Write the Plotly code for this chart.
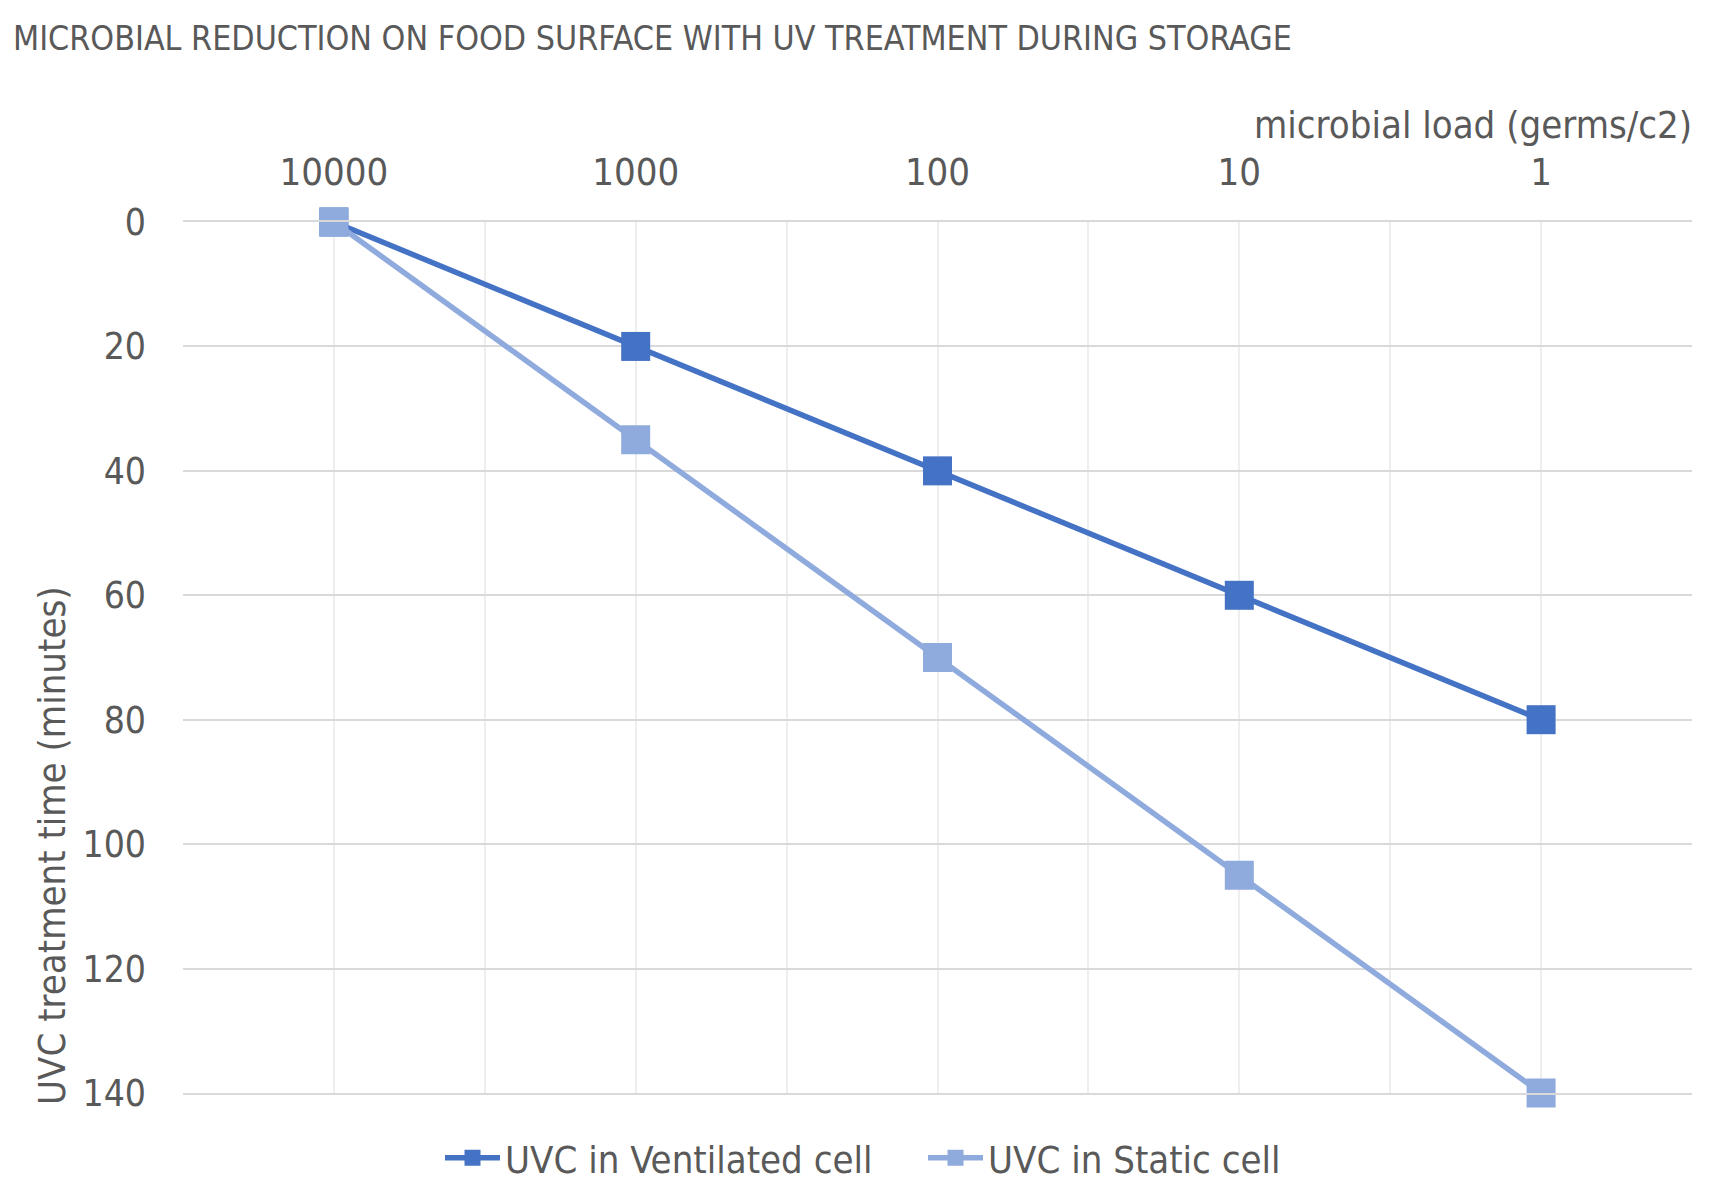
import plotly.graph_objects as go

categories = ["10000", "1000", "100", "10", "1"]
ventilated = [0, 20, 40, 60, 80]
static = [0, 35, 70, 105, 140]
y_ticks = [0, 20, 40, 60, 80, 100, 120, 140]

FONT = "DejaVu Sans Condensed, Liberation Sans Narrow, DejaVu Sans, sans-serif"
TXT = "#595959"

# page geometry of the plot area (page pixels)
PX0, PX1, PY0, PY1 = 183, 1692, 222, 1093
PW, PH = PX1 - PX0, PY1 - PY0


def px(x):
    return (x - PX0) / PW


def py(y):
    return (PY1 - y) / PH


xpos = list(range(len(categories)))
tickvals = []
ticktext = []
for i, c in enumerate(categories):
    tickvals += [i - 0.5, i]
    ticktext += ["", c]
tickvals.append(len(categories) - 0.5)
ticktext.append("")

fig = go.Figure()
fig.add_trace(go.Scatter(
    x=xpos, y=ventilated, mode="lines+markers", name="UVC in Ventilated cell",
    line=dict(color="#4472C4", width=5.5),
    marker=dict(symbol="square", size=29, color="#4472C4"),
    cliponaxis=False, legend="legend",
))
fig.add_trace(go.Scatter(
    x=xpos, y=static, mode="lines+markers", name="UVC in Static cell",
    line=dict(color="#8FAADC", width=5.5),
    marker=dict(symbol="square", size=29, color="#8FAADC"),
    cliponaxis=False, legend="legend2",
))

leg_common = dict(orientation="h", yanchor="middle", xanchor="left",
                  font=dict(size=38, color=TXT), itemwidth=55,
                  bgcolor="rgba(0,0,0,0)", borderwidth=0)

fig.update_layout(
    width=1709, height=1199,
    margin=dict(l=PX0 - 8, r=1709 + 8 - PX1, t=PY0 - 8, b=1199 + 8 - PY1),
    paper_bgcolor="white", plot_bgcolor="white",
    font=dict(family=FONT, color=TXT, size=37),
    showlegend=True,
    legend=dict(x=px(440), y=py(1158), **leg_common),
    legend2=dict(x=px(923), y=py(1158), **leg_common),
    xaxis=dict(
        side="top", range=[-0.5, len(categories) - 0.5],
        tickmode="array", tickvals=tickvals, ticktext=ticktext,
        showgrid=True, gridcolor="#eeeeee", gridwidth=1.5,
        showline=True, linecolor="#d9d9d9", linewidth=2, mirror=True,
        ticks="", ticklabelstandoff=20, zeroline=False,
        tickfont=dict(size=38, color=TXT),
    ),
    yaxis=dict(
        range=[140, 0], tickmode="array", tickvals=y_ticks,
        showgrid=True, gridcolor="#d9d9d9", gridwidth=1.5,
        showline=False, ticks="", ticklabelstandoff=36, zeroline=False,
        tickfont=dict(size=37, color=TXT),
    ),
    annotations=[
        dict(text="MICROBIAL REDUCTION ON FOOD SURFACE WITH UV TREATMENT DURING STORAGE",
             xref="paper", yref="paper", x=px(11), y=py(39),
             xanchor="left", yanchor="middle", showarrow=False,
             font=dict(size=33.7, color=TXT)),
        dict(text="microbial load (germs/c2)", xref="paper", yref="paper",
             x=px(1694), y=py(125), xanchor="right", yanchor="middle",
             showarrow=False, font=dict(size=38, color=TXT)),
        dict(text="UVC treatment time (minutes)", xref="paper", yref="paper",
             x=px(52), y=py(846), xanchor="center", yanchor="middle",
             textangle=-90, showarrow=False, font=dict(size=38, color=TXT)),
    ],
)

fig.write_html("out.html")
